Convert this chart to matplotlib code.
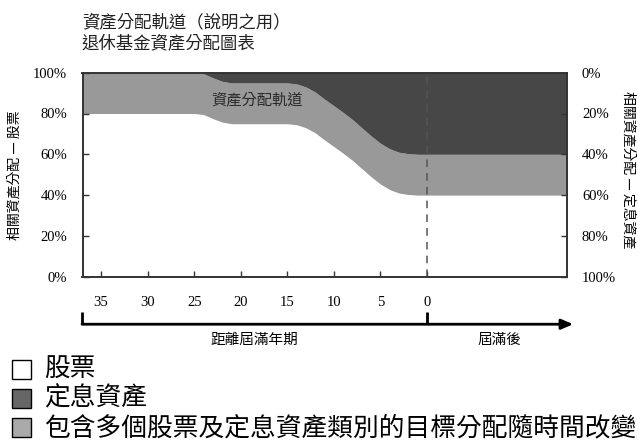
import matplotlib

matplotlib.use("Agg")
import matplotlib.pyplot as plt  # noqa: E402
from matplotlib.patches import Rectangle  # noqa: E402

plt.rcParams["font.family"] = ["Noto Sans CJK TC", "DejaVu Sans"]
SERIF = "Liberation Serif"

# Glide path: years to maturity (negative = after maturity), shares in %
years = [37, 25, 24, 23, 22, 21, 15, 14, 13, 12, 11, 10, 9, 8, 7, 6, 5, 4, 3, 2, 1, 0, -15]
stocks = [80, 80, 79.5, 77.5, 75.8, 75, 75, 74.5, 73, 70.5, 67, 63.8, 60.5, 57, 53, 49,
          45.4, 42.7, 41, 40.3, 40, 40, 40]
fixed_income = [0, 0, 0.5, 2.5, 4.2, 5, 5, 5.5, 7, 9.5, 13, 16.2, 19.5, 23, 27, 31,
                34.6, 37.3, 39, 39.7, 40, 40, 40]

year_ticks = [35, 30, 25, 20, 15, 10, 5, 0]
pct_ticks = [0, 20, 40, 60, 80, 100]

title = "資產分配軌道（說明之用）\n退休基金資產分配圖表"
left_label = "相關資產分配 — 股票"
right_label = "相關資產分配 — 定息資產"
band_label = "資產分配軌道"
before_label = "距離屆滿年期"
after_label = "屆滿後"
legend_items = [
    ("股票", "white"),
    ("定息資產", "#666666"),
    ("包含多個股票及定息資產類別的目標分配隨時間改變", "#aaaaaa"),
]

WHITE_C = "white"
BAND_C = "#999999"
DARK_C = "#474747"
FRAME_C = "#333333"

W, H = 638, 443
fig = plt.figure(figsize=(W / 100, H / 100), dpi=100)
ax = fig.add_axes([82.5 / W, 1 - 276.7 / H, 484.2 / W, 204 / H])

top = [100 - f for f in fixed_income]
ax.fill_between(years, 0, stocks, color=WHITE_C, lw=0)
ax.fill_between(years, stocks, top, color=BAND_C, lw=0)
ax.fill_between(years, top, 100, color=DARK_C, lw=0)
ax.axvline(0, color="#555555", ls=(0, (5, 4)), lw=1.1)

ax.set_xlim(37, -15)
ax.set_ylim(0, 100)
ax.set_xticks(year_ticks)
ax.set_xticklabels([str(v) for v in year_ticks], fontfamily=SERIF, fontsize=10.5)
ax.set_yticks(pct_ticks)
ax.set_yticklabels([f"{v}%" for v in pct_ticks], fontfamily=SERIF, fontsize=10.5)
ax.tick_params(direction="in", length=4, width=1, color=FRAME_C)
ax.tick_params(axis="x", pad=14)
ax.tick_params(axis="y", pad=11)
for s in ax.spines.values():
    s.set_color(FRAME_C)
    s.set_linewidth(1.4)

ax2 = ax.twinx()
ax2.set_ylim(100, 0)
ax2.set_yticks(pct_ticks)
ax2.set_yticklabels([f"{v}%" for v in pct_ticks], fontfamily=SERIF, fontsize=10.5)
ax2.tick_params(direction="in", length=4, width=1, color=FRAME_C, pad=11)
for s in ax2.spines.values():
    s.set_visible(False)

ax.text(18.25, 86.5, band_label, ha="center", va="center", fontsize=11, color="#2a2a2a")

# time arrow under the plot
tr = ax.get_xaxis_transform()
ax.annotate("", xy=(-15.7, -0.233), xytext=(37.05, -0.233), xycoords=tr,
            arrowprops=dict(arrowstyle="-|>,head_length=0.7,head_width=0.3",
                            color="black", lw=2, shrinkA=0, shrinkB=0),
            annotation_clip=False)
ax.plot([37, 37], [-0.175, -0.233], color="black", lw=2, transform=tr, clip_on=False,
        solid_capstyle="butt")
ax.plot([0, 0], [-0.175, -0.233], color="black", lw=2, transform=tr, clip_on=False,
        solid_capstyle="butt")
ax.text(18.5, -0.31, before_label, transform=tr, ha="center", va="center", fontsize=10.5)
ax.text(-7.8, -0.31, after_label, transform=tr, ha="center", va="center", fontsize=10.5)

fig.text(82 / W, 1 - 33 / H, title, ha="left", va="center", fontsize=12.5,
         color="#222222", linespacing=1.25)
fig.text(15 / W, 1 - 175 / H, left_label, rotation=90, ha="center", va="center",
         fontsize=10)
fig.text(628 / W, 1 - 170 / H, right_label, rotation=270, ha="center", va="center",
         fontsize=10)

# legend boxes below the chart
for i, (label, color) in enumerate(legend_items):
    yc = 369 + i * 29
    fig.patches.append(Rectangle((11.7 / W, 1 - (yc + 9.5) / H), 19 / W, 19 / H,
                                 transform=fig.transFigure, facecolor=color,
                                 edgecolor="black", lw=1))
    fig.text(44 / W, 1 - (yc + 1) / H, label, ha="left", va="center", fontsize=18.5)

fig.savefig("out.png", dpi=100)
